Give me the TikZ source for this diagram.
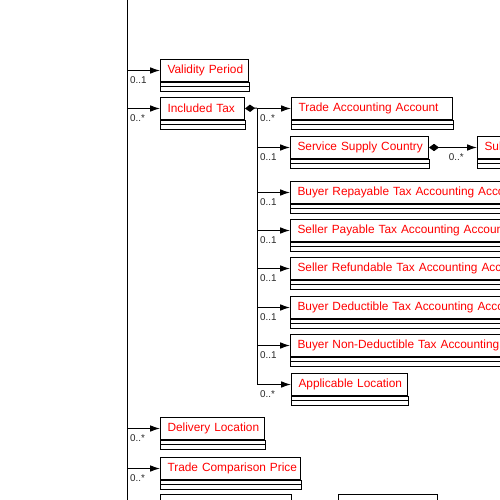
\documentclass[tikz,border=0pt]{standalone}
\usepackage{fontspec}
\setmainfont{Liberation Sans}
\usetikzlibrary{arrows.meta,calc}

\tikzset{
  umlbox/.style={draw, anchor=north west, inner xsep=5.25pt, inner ysep=0pt,
    minimum height=16.5pt, align=left, text=red, font=\fontsize{8.9}{11}\selectfont},
  assoc/.style={-{Latex[length=7.5pt,width=5pt]}},
  comp/.style={{Diamond[length=7.5pt,width=5.5pt]}-{Latex[length=7.5pt,width=5pt]}},
  mult/.style={pos=0, anchor=north west, inner sep=0pt, xshift=2pt, yshift=-4.5pt,
    font=\fontsize{7.4}{8}\selectfont, text=black!85}
}

% class box: name, x, top, width (px), title
\newcommand{\umlclass}[5]{%
  \pgfmathsetlengthmacro\boxtw{(#4-14)*0.75pt}%
  \node[umlbox, text width=\boxtw] (#1) at (#2,#3) {\mbox{#5}};
  \draw ($(#1.south west)$) rectangle ($(#1.south east)+(0,9)$);
  \draw ($(#1.south west)+(0,4.5)$) -- ($(#1.south east)+(0,4.5)$);
}

\begin{document}
\begin{tikzpicture}[x=0.75pt, y=-0.75pt, line width=0.75pt]
\useasboundingbox (0,0) rectangle (500,500);
\clip (0,0) rectangle (500,500);

\coordinate (spine) at (127,-10);
\coordinate (spineend) at (127,510);
\draw (spine) -- (spineend);

\umlclass{vp}{160}{59}{88}{Validity Period}
\umlclass{it}{160}{97}{84}{Included Tax}
\umlclass{dl}{160}{417}{104}{Delivery Location}
\umlclass{tcp}{160}{457}{140}{Trade Comparison Price}
\umlclass{nxa}{160}{494}{131}{}
\umlclass{nxb}{338}{494}{99}{}

\draw[assoc] (vp.west -| spine) -- node[mult] {0..1} (vp.west);
\draw[assoc] (it.west -| spine) -- node[mult] {0..*} (it.west);
\draw[assoc] (dl.west -| spine) -- node[mult] {0..*} (dl.west);
\draw[assoc] (tcp.west -| spine) -- node[mult] {0..*} (tcp.west);

% included tax members
\umlclass{taa}{291}{97}{161}{Trade Accounting Account}
\umlclass{ssc}{290}{136}{138}{Service Supply Country}
\umlclass{sub}{477}{136}{300}{Subordinate Trade Country Sub-Division}
\umlclass{brt}{290}{181}{330}{Buyer Repayable Tax Accounting Account}
\umlclass{spt}{290}{219}{330}{Seller Payable Tax Accounting Account}
\umlclass{srt}{290}{257}{330}{Seller Refundable Tax Accounting Account}
\umlclass{bdt}{290}{296}{330}{Buyer Deductible Tax Accounting Account}
\umlclass{bnd}{290}{334}{330}{Buyer Non-Deductible Tax Accounting Account}
\umlclass{al}{291}{373}{116}{Applicable Location}

\coordinate (bus) at (257,108);
\draw[{Diamond[length=7.5pt,width=5.5pt]}-] (it.east) -- (bus);
\draw (bus) -- (al.west -| bus);

\draw[assoc] (taa.west -| bus) -- node[mult] {0..*} (taa.west);
\foreach \cls in {ssc,brt,spt,srt,bdt,bnd}
  \draw[assoc] (\cls.west -| bus) -- node[mult] {0..1} (\cls.west);
\draw[assoc] (al.west -| bus) -- node[mult] {0..*} (al.west);

\draw[comp] (ssc.east) -- node[mult, pos=0.35] {0..*} (sub.west);

\end{tikzpicture}
\end{document}
